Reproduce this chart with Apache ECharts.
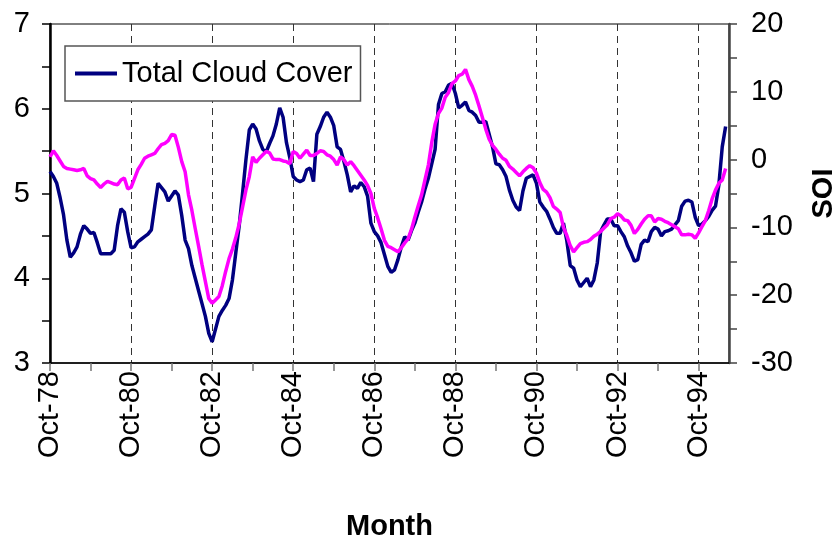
<!DOCTYPE html>
<html>
<head>
<meta charset="utf-8">
<script src="https://cdn.jsdelivr.net/npm/echarts@6/dist/echarts.min.js"></script>
<style>
html,body{margin:0;padding:0;background:#fff;}
#chart{width:838px;height:541px;}
</style>
</head>
<body>
<div id="chart"></div>
<script>
// Monthly categories from Oct-78 (index 0) to Jul-95 (index 201)
const monthNames = ['Jan','Feb','Mar','Apr','May','Jun','Jul','Aug','Sep','Oct','Nov','Dec'];
const startYear = 1978, startMonth = 9, monthCount = 202;
const categories = [];
for (let i = 0; i < monthCount; i++) {
  const m = (startMonth + i) % 12;
  const y = startYear + Math.floor((startMonth + i) / 12);
  categories.push(monthNames[m] + '-' + String(y % 100).padStart(2, '0'));
}
const tickLabels = ['Oct-78','Oct-80','Oct-82','Oct-84','Oct-86','Oct-88','Oct-90','Oct-92','Oct-94'];

// Total Cloud Cover (left axis)
const cloudCover = [
  5.26,5.20,5.12,4.95,4.75,4.45,4.25,4.30,4.37,4.52,4.62,4.58,
  4.53,4.54,4.42,4.29,4.29,4.29,4.29,4.33,4.62,4.82,4.78,4.55,
  4.36,4.37,4.43,4.46,4.49,4.52,4.57,4.85,5.12,5.07,5.02,4.91,
  4.97,5.03,4.98,4.74,4.45,4.35,4.15,4.00,3.85,3.70,3.55,3.35,
  3.25,3.40,3.55,3.62,3.68,3.76,3.98,4.30,4.62,5.00,5.40,5.75,
  5.82,5.76,5.62,5.52,5.49,5.59,5.68,5.82,6.01,5.90,5.60,5.42,
  5.20,5.16,5.14,5.16,5.28,5.30,5.14,5.70,5.79,5.90,5.96,5.90,
  5.80,5.55,5.52,5.38,5.22,5.02,5.09,5.06,5.13,5.08,4.97,4.65,
  4.55,4.50,4.42,4.28,4.14,4.07,4.10,4.22,4.37,4.49,4.45,4.56,
  4.65,4.78,4.90,5.05,5.18,5.35,5.52,6.05,6.18,6.20,6.28,6.30,
  6.18,6.01,6.04,6.08,5.98,5.96,5.92,5.84,5.84,5.85,5.70,5.55,
  5.35,5.34,5.28,5.20,5.04,4.92,4.84,4.80,5.03,5.18,5.20,5.22,
  5.12,4.90,4.84,4.79,4.70,4.60,4.53,4.53,4.65,4.44,4.15,4.12,
  3.98,3.90,3.95,4.00,3.90,3.98,4.18,4.55,4.63,4.70,4.70,4.62,
  4.62,4.55,4.49,4.38,4.30,4.20,4.22,4.40,4.45,4.43,4.55,4.60,
  4.58,4.50,4.55,4.56,4.58,4.63,4.68,4.85,4.91,4.92,4.90,4.72,
  4.62,4.64,4.68,4.73,4.80,4.85,5.10,5.55,5.79
];

// Southern Oscillation Index (right axis)
const soi = [
  0.4,1.3,0.6,-0.2,-1.0,-1.3,-1.4,-1.5,-1.6,-1.5,-1.3,-2.4,
  -2.8,-3.0,-3.6,-4.1,-3.6,-3.2,-3.4,-3.6,-3.7,-3.0,-2.7,-4.3,
  -4.1,-2.8,-1.5,-0.7,0.2,0.5,0.7,0.9,1.6,2.2,2.4,2.8,
  3.7,3.6,1.8,-0.3,-1.8,-5.2,-7.5,-10.2,-12.8,-15.5,-18.0,-20.5,
  -21.2,-20.7,-20.2,-18.6,-16.5,-14.6,-13.2,-11.5,-9.5,-7.0,-4.5,-2.5,
  0.4,-0.4,0.2,0.7,1.2,1.0,0.1,0.0,0.0,-0.2,-0.3,-0.6,
  1.2,0.9,0.2,0.8,1.4,0.6,0.6,0.9,1.3,1.2,0.7,0.5,
  0.0,-0.8,0.4,0.0,-0.8,-0.3,-0.9,-1.6,-2.3,-3.0,-3.8,-5.0,
  -7.2,-8.6,-10.2,-11.9,-12.8,-13.0,-13.3,-13.6,-13.0,-12.3,-11.7,-10.3,
  -8.5,-6.8,-5.2,-3.0,-0.8,2.5,5.2,6.8,7.6,9.2,9.9,11.2,
  11.6,12.4,12.6,13.3,11.8,10.8,9.5,7.9,6.2,4.5,3.0,2.1,
  1.5,0.8,0.2,-0.1,-1.0,-1.4,-1.9,-2.4,-1.8,-1.3,-0.9,-1.2,
  -2.0,-3.4,-4.4,-4.8,-5.6,-6.9,-7.3,-7.8,-10.0,-11.2,-12.7,-13.6,
  -13.0,-12.4,-12.2,-12.1,-11.8,-11.3,-11.0,-10.6,-10.1,-9.6,-8.7,-8.5,
  -8.0,-8.3,-8.9,-9.0,-9.7,-10.9,-10.3,-9.5,-8.8,-8.3,-8.3,-9.2,
  -8.7,-8.8,-9.1,-9.3,-9.6,-9.9,-10.2,-11.1,-11.1,-11.0,-11.1,-11.6,
  -10.8,-9.9,-9.0,-7.5,-5.8,-4.5,-3.5,-3.0,-1.3
];

const FONT = "'Liberation Sans', Arial, sans-serif";
const FS = 29;
const chart = echarts.init(document.getElementById('chart'), null, {renderer: 'canvas'});
chart.setOption({
  animation: false,
  backgroundColor: '#fff',
  textStyle: {fontFamily: FONT, color: '#000'},
  grid: {left: 50, right: 109, top: 24, bottom: 178, show: true, borderColor: '#000', borderWidth: 1,
         backgroundColor: 'transparent', containLabel: false, outerBoundsMode: 'none'},
  legend: {
    data: [{name: 'Total Cloud Cover', icon: 'rect'}],
    left: 65, top: 46,
    padding: [12, 8, 12, 10],
    itemWidth: 42, itemHeight: 4, itemGap: 0,
    borderColor: '#555', borderWidth: 1.5, backgroundColor: '#fff',
    textStyle: {fontSize: FS, color: '#000', fontFamily: FONT, lineHeight: 31}
  },
  xAxis: {
    type: 'category', data: categories, boundaryGap: false,
    axisLine: {onZero: false, lineStyle: {color: '#000', width: 1.5}},
    axisTick: {interval: (i) => i % 12 === 0, length: 8, lineStyle: {color: '#777', width: 1.5}},
    axisLabel: {interval: (i, v) => tickLabels.includes(v), rotate: 90, fontSize: FS, color: '#000', margin: 8, fontFamily: FONT},
    splitLine: {show: true, interval: (i) => i % 24 === 0 && i > 0, lineStyle: {type: [7, 5], color: '#333', width: 1}},
    name: 'Month', nameLocation: 'middle', nameGap: 149,
    nameTextStyle: {fontSize: 29, fontWeight: 'bold', color: '#000', fontFamily: FONT}
  },
  yAxis: [
    {
      type: 'value', min: 3, max: 7, interval: 0.5, position: 'left',
      axisLine: {show: true, onZero: false, lineStyle: {color: '#000', width: 2.5}},
      axisTick: {show: true, length: 8, lineStyle: {color: '#000', width: 1.5}},
      axisLabel: {formatter: (v) => Number.isInteger(v) ? String(v) : '', fontSize: FS, color: '#000', margin: 20, fontFamily: FONT},
      splitLine: {show: false}
    },
    {
      type: 'value', min: -30, max: 20, interval: 5, position: 'right',
      axisLine: {show: true, onZero: false, lineStyle: {color: '#444', width: 2.5}},
      axisTick: {show: true, length: 8, lineStyle: {color: '#444', width: 1.5}},
      axisLabel: {formatter: (v) => v % 10 === 0 ? String(v) : '', fontSize: FS, color: '#000', margin: 22, fontFamily: FONT},
      splitLine: {show: false},
      name: 'SOI', nameLocation: 'middle', nameGap: 80, nameRotate: 90,
      nameTextStyle: {fontSize: 29, fontWeight: 'bold', color: '#000', fontFamily: FONT}
    }
  ],
  series: [
    {name: 'Total Cloud Cover', type: 'line', yAxisIndex: 0, data: cloudCover, symbol: 'none',
     lineStyle: {color: '#000080', width: 3.5}, itemStyle: {color: '#000080'}},
    {name: 'SOI', type: 'line', yAxisIndex: 1, data: soi, symbol: 'none',
     lineStyle: {color: '#FF00FF', width: 3.5}, itemStyle: {color: '#FF00FF'}}
  ]
});
</script>
</body>
</html>
